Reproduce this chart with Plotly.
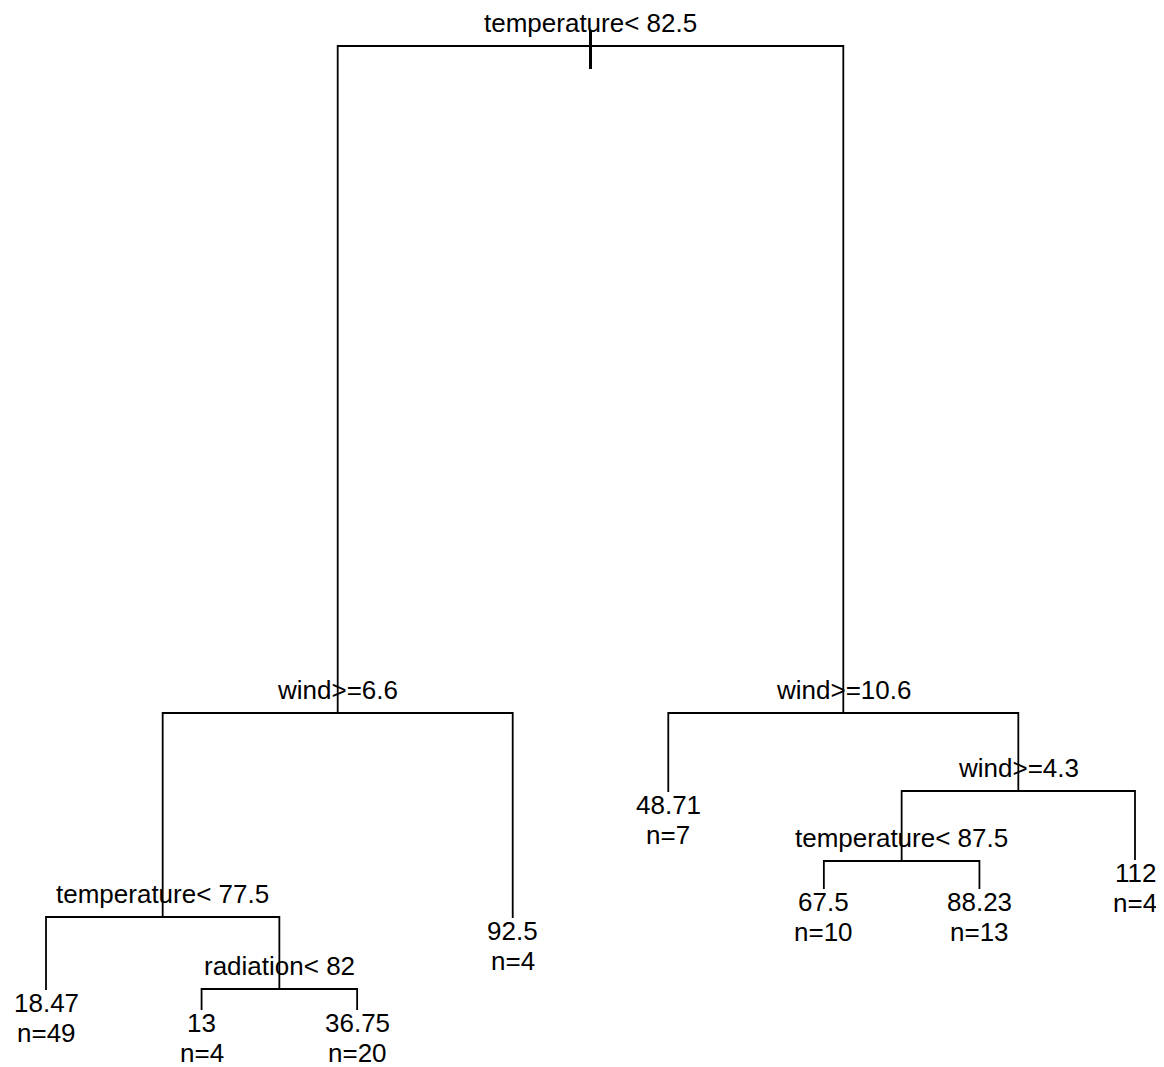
import plotly.graph_objects as go

# rpart-style regression tree (node numbering as in rpart)
node_ids = [1, 2, 3, 4, 5, 8, 9, 18, 19, 6, 7, 14, 15, 28, 29]
node_split = {1: "temperature< 82.5", 2: "wind>=6.6", 3: "wind>=10.6",
              4: "temperature< 77.5", 9: "radiation< 82", 7: "wind>=4.3",
              14: "temperature< 87.5"}
leaf_value = {8: "18.47", 18: "13", 19: "36.75", 5: "92.5",
              6: "48.71", 28: "67.5", 29: "88.23", 15: "112"}
leaf_n = {8: 49, 18: 4, 19: 20, 5: 4, 6: 7, 28: 10, 29: 13, 15: 4}
# vertical position of each node (plot units, top = 0)
node_height = {1: 46, 2: 713, 3: 713, 4: 917, 5: 918, 8: 990, 9: 989,
               18: 1010, 19: 1010, 6: 792, 7: 791, 14: 861, 15: 860,
               28: 889, 29: 889}
root_stem = [30, 69]

# ---- layout of x positions: leaves 1..n in order, internal = midpoint
xpos = {}
counter = [0]


def place(n):
    if n in leaf_value:
        counter[0] += 1
        xpos[n] = counter[0]
    else:
        place(2 * n)
        place(2 * n + 1)
        xpos[n] = (xpos[2 * n] + xpos[2 * n + 1]) / 2


place(1)

lx, ly = [], []
for n in node_ids:
    if n in node_split:
        l, r = 2 * n, 2 * n + 1
        y = node_height[n]
        lx += [xpos[l], xpos[l], xpos[r], xpos[r], None]
        ly += [node_height[l], y, y, node_height[r], None]

fig = go.Figure()
fig.add_trace(go.Scatter(x=lx, y=ly, mode="lines",
                         line=dict(color="black", width=1.8),
                         hoverinfo="skip", showlegend=False))
fig.add_trace(go.Scatter(x=[xpos[1], xpos[1]], y=root_stem, mode="lines",
                         line=dict(color="black", width=3),
                         hoverinfo="skip", showlegend=False))

font = dict(family="Liberation Sans, Arial, sans-serif", size=26, color="black")
ann = []
for n, lab in node_split.items():
    ann.append(dict(x=xpos[n], y=node_height[n] - 23, text=lab,
                    showarrow=False, xanchor="center", yanchor="middle",
                    font=font))
for n, v in leaf_value.items():
    ann.append(dict(x=xpos[n], y=node_height[n] + 13, text=v,
                    showarrow=False, xanchor="center", yanchor="middle",
                    font=font))
    ann.append(dict(x=xpos[n], y=node_height[n] + 43, text=f"n={leaf_n[n]}",
                    showarrow=False, xanchor="center", yanchor="middle",
                    font=font))

spacing = 1089 / 7
off = 8  # page body margin
W, H = 1164 - off, 1067 - off
x0 = 1 - (46 - off) / spacing
fig.update_layout(
    width=W, height=H,
    margin=dict(l=0, r=0, t=0, b=0),
    paper_bgcolor="white", plot_bgcolor="white",
    annotations=ann,
    xaxis=dict(range=[x0, x0 + W / spacing],
               visible=False, fixedrange=True),
    yaxis=dict(range=[H + off, off], visible=False, fixedrange=True),
)
fig.write_html("out.html")
